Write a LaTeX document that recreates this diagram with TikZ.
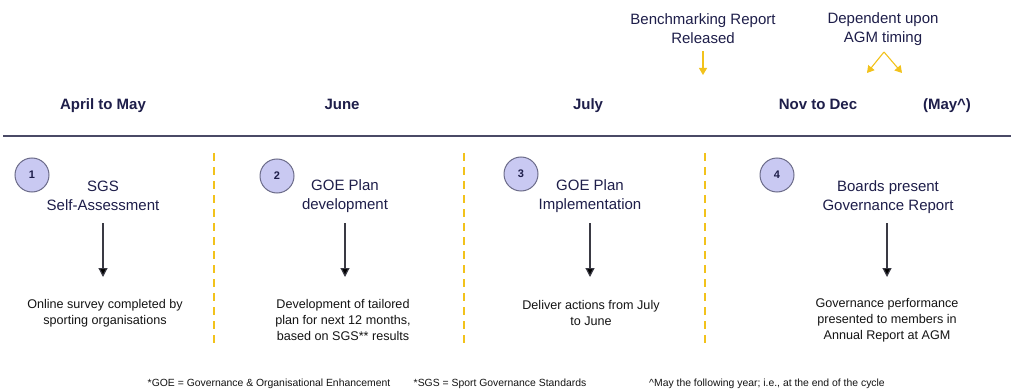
\documentclass[tikz,border=0pt]{standalone}
\usepackage{fontspec}
\setmainfont{Liberation Sans}
\usetikzlibrary{arrows.meta}
\definecolor{navy}{HTML}{1E1E4A}
\definecolor{txt}{HTML}{141414}
\definecolor{gold}{HTML}{F2C21B}
\definecolor{lav}{HTML}{C9C9F2}
\definecolor{circb}{HTML}{6C6C8A}
\definecolor{rule}{HTML}{4A4A66}
\definecolor{arrg}{HTML}{3A3A44}
\tikzset{
  hdr/.style={font=\fontsize{15}{18}\selectfont\bfseries, text=navy, inner sep=0pt, anchor=base},
  ttl/.style={font=\fontsize{15}{19}\selectfont, text=navy, align=center, inner sep=0pt},
  note/.style={font=\fontsize{15}{19}\selectfont, text=navy, align=center, inner sep=0pt},
  desc/.style={font=\fontsize{12.6}{16}\selectfont, text=txt, align=center, inner sep=0pt},
  foot/.style={font=\fontsize{10.4}{12}\selectfont, text=txt, inner sep=0pt, anchor=base},
  num/.style={circle, draw=circb, line width=1pt, fill=lav, minimum size=34pt, inner sep=0pt, font=\fontsize{11}{13}\selectfont\bfseries, text=navy},
  sep/.style={gold, line width=1.8pt, dash pattern=on 8pt off 6pt},
  arr/.style={arrg, line width=1.2pt, -{Triangle[length=9pt,width=9pt,fill=black]}},
  garr/.style={gold, line width=1.1pt, -{Triangle[length=7pt,width=8pt]}}
}
\begin{document}
\begin{tikzpicture}[x=1pt,y=-1pt]
\useasboundingbox[fill=white] (0,0) rectangle (1011,390);
% top notes
\node[note] (bench) at (703,29) {Benchmarking Report\\Released};
\coordinate (benchTip) at (703,75);
\draw[garr] ([yshift=-7pt]bench.south) -- (benchTip);
\node[note] (agm) at (883,29) {Dependent upon\\AGM timing};
\coordinate (agmTop) at (884,52);
\coordinate (agmL) at (867,73);
\coordinate (agmR) at (902,73);
\draw[garr] (agmTop) -- (agmL);
\draw[garr] (agmTop) -- (agmR);
% headers
\node[hdr] (h1) at (103,110) {April to May};
\node[hdr] (h2) at (342,110) {June};
\node[hdr] (h3) at (588,110) {July};
\node[hdr] (h4) at (818,110) {Nov to Dec};
\node[hdr] (h5) at (947,110) {(May\textasciicircum)};
% rule
\coordinate (rl) at (3,136);
\coordinate (rr) at (1011,136);
\draw[rule, line width=1.8pt] (rl) -- (rr);
% separators
\coordinate (s1t) at (214,153); \coordinate (s1b) at (214,346);
\coordinate (s2t) at (464,153); \coordinate (s2b) at (464,346);
\coordinate (s3t) at (705,153); \coordinate (s3b) at (705,346);
\draw[sep] (s1t) -- (s1b);
\draw[sep] (s2t) -- (s2b);
\draw[sep] (s3t) -- (s3b);
% circles
\node[num] (c1) at (32,175) {1};
\node[num] (c2) at (277,176) {2};
\node[num] (c3) at (521,174) {3};
\node[num] (c4) at (777,175) {4};
% titles
\node[ttl] (t1) at (103,196) {SGS\\Self-Assessment};
\node[ttl] (t2) at (345,196) {GOE Plan\\development};
\node[ttl] (t3) at (590,196) {GOE Plan\\Implementation};
\node[ttl] (t4) at (888,197) {Boards present\\Governance Report};
% descriptions
\node[desc] (d1) at (105,313) {Online survey completed by\\sporting organisations};
\node[desc] (d2) at (343,320) {Development of tailored\\plan for next 12 months,\\based on SGS** results};
\node[desc] (d3) at (591,313) {Deliver actions from July\\to June};
\node[desc] (d4) at (887,320) {Governance performance\\presented to members in\\Annual Report at AGM};
% arrows
\coordinate (a1) at (103,223); \coordinate (b1) at (103,277);
\coordinate (a2) at (345,223); \coordinate (b2) at (345,277);
\coordinate (a3) at (590,223); \coordinate (b3) at (590,277);
\coordinate (a4) at (887,223); \coordinate (b4) at (887,277);
\draw[arr] (a1) -- (b1);
\draw[arr] (a2) -- (b2);
\draw[arr] (a3) -- (b3);
\draw[arr] (a4) -- (b4);
% footer
\node[foot] (f1) at (269,386) {*GOE = Governance \& Organisational Enhancement};
\node[foot] (f2) at (500,386) {*SGS = Sport Governance Standards};
\node[foot] (f3) at (767,386) {\textasciicircum May the following year; i.e., at the end of the cycle};
\end{tikzpicture}
\end{document}
